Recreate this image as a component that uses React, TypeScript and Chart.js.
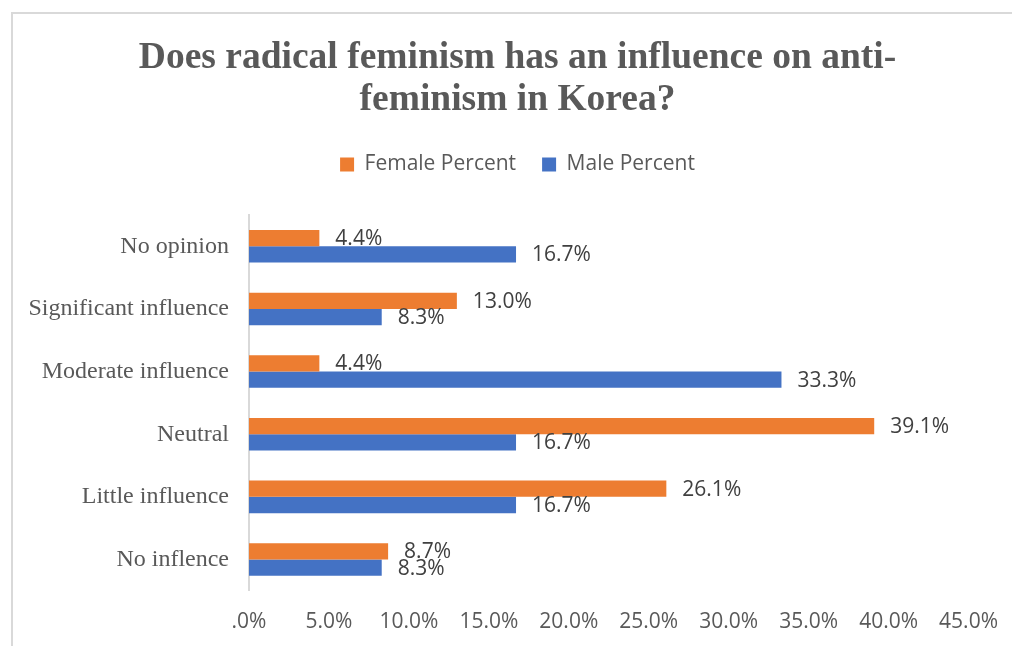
import React, { useEffect, useRef } from "react";
import { Chart, registerables } from "chart.js";

Chart.register(...registerables);

const categories = [
  "No opinion",
  "Significant influence",
  "Moderate influence",
  "Neutral",
  "Little influence",
  "No inflence",
];
const femalePercent = [4.4, 13.0, 4.4, 39.1, 26.1, 8.7];
const malePercent = [16.7, 8.3, 33.3, 16.7, 16.7, 8.3];
const titleLines = ["Does radical feminism has an influence on anti-", "feminism in Korea?"];
const xMax = 45;
const xStep = 5;

const fmtPct = (v: number) => (v === 0 ? ".0%" : v.toFixed(1) + "%");

const valueLabels = {
  id: "valueLabels",
  afterDatasetsDraw(chart: any) {
    const ctx = chart.ctx;
    ctx.save();
    ctx.font = '21px "Open Sans"';
    ctx.fillStyle = "#404040";
    ctx.textAlign = "left";
    ctx.textBaseline = "middle";
    chart.data.datasets.forEach((ds: any, di: number) => {
      const meta = chart.getDatasetMeta(di);
      meta.data.forEach((el: any, i: number) => {
        ctx.fillText(fmtPct(ds.data[i]), el.x + 16, el.y + 1);
      });
    });
    ctx.restore();
  },
};

const legendSpacer = {
  id: "legendSpacer",
  beforeLayout(chart: any) {
    const lg = chart.legend;
    if (lg && !lg._spacerPatched) {
      const orig = lg.fit.bind(lg);
      lg.fit = function () {
        orig();
        this.height += 30;
      };
      lg._spacerPatched = true;
    }
  },
};

const CANVAS_W = 1009;
const CANVAS_H = 646;

export default function App() {
  const ref = useRef<HTMLCanvasElement | null>(null);
  useEffect(() => {
    if (!ref.current) return;
    const chart = new Chart(ref.current, {
      type: "bar",
      data: {
        labels: categories,
        datasets: [
          {
            label: "Female Percent",
            data: femalePercent,
            backgroundColor: "#ED7D31",
            categoryPercentage: 0.52,
            barPercentage: 1,
          },
          {
            label: "Male Percent",
            data: malePercent,
            backgroundColor: "#4472C4",
            categoryPercentage: 0.52,
            barPercentage: 1,
          },
        ],
      },
      options: {
        indexAxis: "y",
        animation: false,
        responsive: false,
        maintainAspectRatio: false,
        layout: { padding: { left: 26, right: 0, top: 0, bottom: 0 } },
        plugins: {
          title: {
            display: true,
            text: titleLines,
            color: "#595959",
            font: { family: '"Liberation Serif", "Times New Roman", serif', size: 37.5, weight: "bold", lineHeight: "42px" },
            padding: { top: 37, bottom: 7 },
          },
          legend: {
            display: true,
            position: "top",
            labels: {
              color: "#595959",
              font: { family: '"Open Sans"', size: 21 },
              boxWidth: 14,
              boxHeight: 14,
              padding: 26,
            },
          },
          tooltip: { enabled: false },
        },
        scales: {
          x: {
            min: 0,
            max: xMax,
            grid: { display: false, drawTicks: true, tickLength: 8 },
            border: { display: false },
            ticks: {
              stepSize: xStep,
              color: "#595959",
              font: { family: '"Open Sans"', size: 21 },
              padding: 11,
              maxRotation: 0,
              callback: (v: any) => fmtPct(Number(v)),
            },
          },
          y: {
            grid: { display: false, drawTicks: false },
            border: { display: true, color: "#d9d9d9", width: 2 },
            ticks: {
              color: "#595959",
              font: { family: '"Liberation Serif", "Times New Roman", serif', size: 24 },
              padding: 20,
            },
            afterFit: (scale: any) => {
              scale.width = 223;
            },
          },
        },
      },
      plugins: [valueLabels, legendSpacer],
    });
    return () => chart.destroy();
  }, []);

  return (
    <div style={{ position: "fixed", left: 0, top: 0, width: 1012, height: 646, overflow: "hidden", background: "#fff" }}>
      <div
        style={{
          position: "absolute",
          left: 11,
          top: 12,
          width: 1100,
          height: 700,
          border: "2px solid #d9d9d9",
          boxSizing: "border-box",
        }}
      />
      <canvas
        ref={ref}
        width={CANVAS_W}
        height={CANVAS_H}
        style={{ position: "absolute", left: 0, top: 0, width: CANVAS_W, height: CANVAS_H }}
      />
    </div>
  );
}
